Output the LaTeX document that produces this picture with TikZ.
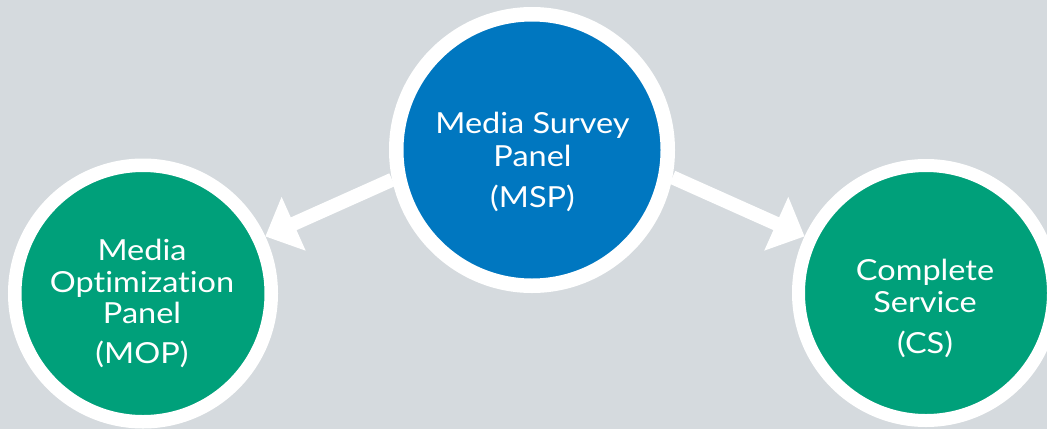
\documentclass[tikz,border=0pt]{standalone}
\usepackage{fontspec}
\setmainfont[Ligatures=NoCommon,FakeStretch=1.12]{Lato}
\usetikzlibrary{arrows.meta}
\definecolor{bg}{HTML}{D5DADE}
\definecolor{mspblue}{HTML}{0077C0}
\definecolor{cgreen}{HTML}{00A07A}
\begin{document}
\begin{tikzpicture}[x=1pt,y=-1pt,
  ring/.style={circle,draw=white,inner sep=0pt},
  lbl/.style={text=white,font=\fontsize{29}{34}\selectfont,anchor=base,inner sep=0pt},
  conn/.style={white,line width=14pt,-{Triangle[length=31pt,width=57pt]}}]
\fill[bg] (0,0) rectangle (1047,429);
\useasboundingbox (0,0) rectangle (1047,429);
\node[ring,fill=mspblue,line width=14.5pt,minimum size=271.5pt,outer sep=7.25pt] (msp) at (532,150) {};
\node[ring,fill=cgreen,line width=13.5pt,minimum size=256.5pt,outer sep=6.75pt] (mop) at (143,293.5) {};
\node[ring,fill=cgreen,line width=13pt,minimum size=255pt,outer sep=6.5pt] (cs) at (926,293) {};
\draw[conn] (msp.192.2) -- (mop.25.2);
\draw[conn] (msp.-11.8) -- (cs.155.5);
\node[lbl] (msp1) at (532.5,133) {Media Survey};
\node[lbl] (msp2) at (532.5,166) {Panel};
\node[lbl] (msp3) at (532.5,207) {(MSP)};
\node[lbl] (mop1) at (142,260) {Media};
\node[lbl] (mop2) at (142,292) {Optimization};
\node[lbl] (mop3) at (142,323) {Panel};
\node[lbl] (mop4) at (142,363) {(MOP)};
\node[lbl] (cs1) at (925,280) {Complete};
\node[lbl] (cs2) at (925,312) {Service};
\node[lbl] (cs3) at (925,353) {(CS)};
\end{tikzpicture}
\end{document}
